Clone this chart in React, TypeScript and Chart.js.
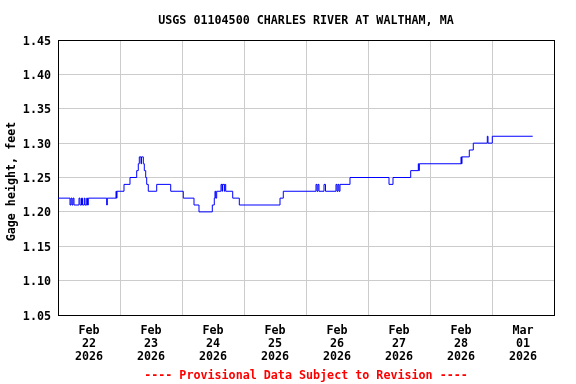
import React, { useEffect, useRef } from "react";
import { Chart, registerables } from "chart.js";

Chart.register(...registerables);

// Hours since Feb 22 2026 00:00 where the gage height changes (step series)
const hours = [
  0, 4.65, 5.03, 5.42, 5.81, 6.19, 8.13, 8.52, 9.1, 9.48, 10.18, 10.45, 11.11, 11.42, 11.73,
  18.85, 19.08, 22.45, 22.65, 22.84, 25.55, 27.87, 30.46, 31.08, 31.47, 32.13, 32.32, 33.02,
  33.41, 33.95, 34.34, 34.95, 38.21, 43.63, 48.5, 52.65, 54.58, 59.73, 60.0, 60.5, 60.77,
  61.05, 61.43, 63.1, 63.48, 63.68, 64.37, 64.57, 64.92, 67.63, 70.18, 85.94, 87.21, 99.87,
  100.26, 100.65, 101.03, 102.97, 103.55, 107.61, 108.0, 108.39, 108.77, 109.16, 113.03,
  128.13, 129.68, 136.53, 139.47, 139.66, 139.86, 156.0, 156.19, 156.39, 159.21, 160.76,
  166.18, 166.45, 168.12, 183.76,
];
const gageFeet = [
  1.22, 1.21, 1.22, 1.21, 1.22, 1.21, 1.22, 1.21, 1.22, 1.21, 1.22, 1.21, 1.22, 1.21, 1.22,
  1.21, 1.22, 1.23, 1.22, 1.23, 1.24, 1.25, 1.26, 1.27, 1.28, 1.27, 1.28, 1.27,
  1.26, 1.25, 1.24, 1.23, 1.24, 1.23, 1.22, 1.21, 1.2, 1.21, 1.21, 1.22, 1.23,
  1.22, 1.23, 1.24, 1.23, 1.24, 1.23, 1.24, 1.23, 1.22, 1.21, 1.22, 1.23, 1.24,
  1.23, 1.24, 1.23, 1.24, 1.23, 1.24, 1.23, 1.24, 1.23, 1.24, 1.25,
  1.24, 1.25, 1.26, 1.27, 1.26, 1.27, 1.28, 1.27, 1.28, 1.29, 1.3,
  1.31, 1.3, 1.31, 1.31,
];

const dayLabels = [
  ["Feb", "22", "2026"],
  ["Feb", "23", "2026"],
  ["Feb", "24", "2026"],
  ["Feb", "25", "2026"],
  ["Feb", "26", "2026"],
  ["Feb", "27", "2026"],
  ["Feb", "28", "2026"],
  ["Mar", "01", "2026"],
];
const yTicks = [1.05, 1.1, 1.15, 1.2, 1.25, 1.3, 1.35, 1.4, 1.45];

const titleText = "USGS 01104500 CHARLES RIVER AT WALTHAM, MA";
const yTitle = "Gage height, feet";
const footerText = "---- Provisional Data Subject to Revision ----";

const FONT = "'DejaVu Sans Mono', monospace";
const FS = 11.7;

export default function App() {
  const ref = useRef<HTMLCanvasElement>(null);
  useEffect(() => {
    if (!ref.current) return;
    const xMax = dayLabels.length * 24;
    const textPlugin = {
      id: "texts",
      afterDraw(chart: any) {
        const ctx = chart.ctx;
        const area = chart.chartArea;
        const cx = (area.left + area.right) / 2;
        ctx.save();
        ctx.font = `bold ${FS}px ${FONT}`;
        ctx.fillStyle = "#000";
        ctx.textAlign = "center";
        ctx.textBaseline = "middle";
        ctx.fillText(titleText, cx, 20.5);
        ctx.save();
        ctx.translate(11.5, (area.top + area.bottom) / 2 + 4);
        ctx.rotate(-Math.PI / 2);
        ctx.fillText(yTitle, 0, 0);
        ctx.restore();
        ctx.fillStyle = "#ff0000";
        ctx.fillText(footerText, cx, 375.5);
        ctx.restore();
      },
    };
    const chart = new Chart(ref.current, {
      type: "line",
      data: {
        datasets: [
          {
            data: hours.map((h, i) => ({ x: h, y: gageFeet[i] })),
            borderColor: "#0000ff",
            borderWidth: 1,
            pointRadius: 0,
            stepped: true,
            fill: false,
          },
        ],
      },
      options: {
        animation: false,
        responsive: false,
        devicePixelRatio: 1,
        layout: { padding: { left: 0, top: 40, right: 22, bottom: 0 } },
        plugins: { legend: { display: false }, tooltip: { enabled: false }, title: { display: false } },
        scales: {
          x: {
            type: "linear",
            min: 0,
            max: xMax,
            afterBuildTicks: (scale: any) => {
              const t = [];
              for (let v = 0; v <= xMax; v += 12) t.push({ value: v });
              scale.ticks = t;
            },
            afterFit: (scale: any) => {
              scale.height = 69;
            },
            ticks: {
              autoSkip: false,
              maxRotation: 0,
              minRotation: 0,
              padding: 9,
              color: "#000",
              font: { family: FONT, size: FS, weight: "bold", lineHeight: "13px" },
              callback: (value: any) => {
                const v = Number(value);
                if (v % 24 === 12) return dayLabels[Math.floor(v / 24)];
                return "";
              },
            },
            grid: {
              drawTicks: false,
              lineWidth: 1,
              color: (ctx: any) => {
                const v = ctx.tick ? ctx.tick.value : 0;
                if (v === 0 || v === xMax) return "#000";
                if (v % 24 === 0) return "#cccccc";
                return "rgba(0,0,0,0)";
              },
            },
            border: { display: true, color: "#000", width: 1 },
          },
          y: {
            min: yTicks[0],
            max: yTicks[yTicks.length - 1],
            afterBuildTicks: (scale: any) => {
              scale.ticks = yTicks.map((v) => ({ value: v }));
            },
            afterFit: (scale: any) => {
              scale.width = 58;
            },
            ticks: {
              padding: 7,
              labelOffset: 1.5,
              color: "#000",
              font: { family: FONT, size: FS, weight: "bold" },
              callback: (value: any) => Number(value).toFixed(2),
            },
            grid: {
              drawTicks: false,
              lineWidth: 1,
              color: (ctx: any) => {
                const v = ctx.tick ? ctx.tick.value : 0;
                if (Math.abs(v - yTicks[yTicks.length - 1]) < 1e-6 || Math.abs(v - yTicks[0]) < 1e-6) return "#000";
                return "#cccccc";
              },
            },
            border: { display: true, color: "#000", width: 1 },
          },
        },
      },
      plugins: [textPlugin],
    } as any);
    return () => chart.destroy();
  }, []);
  return (
    <div style={{ position: "absolute", left: 0, top: 0, width: 576, height: 384, background: "#fff" }}>
      <canvas ref={ref} width={576} height={384} style={{ display: "block", width: 576, height: 384 }} />
    </div>
  );
}
